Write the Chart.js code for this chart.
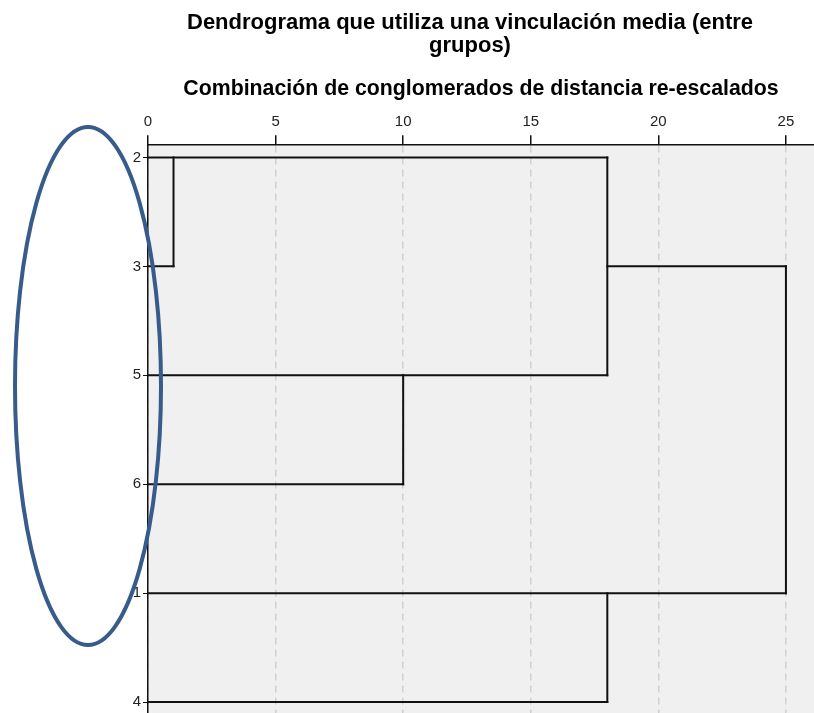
<!DOCTYPE html>
<html>
<head>
<meta charset="utf-8">
<script src="https://cdn.jsdelivr.net/npm/chart.js@4.4.0/dist/chart.umd.min.js"></script>
<style>
  html, body { margin: 0; padding: 0; background: #fff; }
  #wrap { width: 814px; height: 713px; }
</style>
</head>
<body>
<div id="wrap"><canvas id="dendro"></canvas></div>
<script>
// leaves in the order they appear, top to bottom
var leaves = ['2', '3', '5', '6', '1', '4'];

// horizontal branches: row index, start and end distance
var lineRows = [0, 1, 1, 2, 3, 4, 5];
var lineFrom = [0, 0, 18, 0, 0, 0, 0];
var lineTo   = [18, 1, 25, 18, 10, 25, 18];

// vertical joins: distance, top row, bottom row
var joinAt     = [1, 10, 18, 25, 18];
var joinTop    = [0, 2, 0, 1, 4];
var joinBottom = [1, 3, 2, 4, 5];

var xTicks = [0, 5, 10, 15, 20, 25];

var datasets = [];
for (var i = 0; i < lineRows.length; i++) {
    datasets.push({
        data: [{x: lineFrom[i], y: lineRows[i]}, {x: lineTo[i], y: lineRows[i]}]
    });
}
for (var j = 0; j < joinAt.length; j++) {
    datasets.push({
        data: [{x: joinAt[j], y: joinTop[j]}, {x: joinAt[j], y: joinBottom[j]}]
    });
}
datasets.forEach(function (d) {
    d.showLine = true;
    d.borderColor = '#111';
    d.borderWidth = 2;
    d.pointRadius = 0;
    d.borderCapStyle = 'square';
    d.borderJoinStyle = 'miter';
});

var plotBg = {
    id: 'plotBg',
    beforeDraw: function (chart) {
        var a = chart.chartArea, c = chart.ctx;
        c.save();
        c.fillStyle = '#f0f0f0';
        c.fillRect(a.left, a.top, a.right - a.left, a.bottom - a.top);
        c.restore();
    }
};

// blue hand-drawn ring around the leaf labels
var ring = {
    id: 'ring',
    afterDraw: function (chart) {
        var c = chart.ctx;
        c.save();
        c.strokeStyle = '#375c8c';
        c.lineWidth = 4;
        c.beginPath();
        c.ellipse(88, 386, 73, 259, 0, 0, Math.PI * 2);
        c.stroke();
        c.restore();
    }
};

Chart.defaults.font.family = '"Liberation Sans", Arial, sans-serif';
Chart.defaults.color = '#111';

new Chart(document.getElementById('dendro'), {
    type: 'scatter',
    data: { datasets: datasets },
    options: {
        responsive: true,
        maintainAspectRatio: false,
        animation: false,
        layout: { autoPadding: false, padding: { left: 126, right: 0, top: 0, bottom: 0 } },
        plugins: {
            legend: { display: false },
            tooltip: { enabled: false },
            title: {
                display: true,
                text: ['Dendrograma que utiliza una vinculación media (entre', 'grupos)'],
                font: { size: 22, weight: 'bold', lineHeight: 1.05 },
                color: '#000',
                padding: { top: 11.5, bottom: 0 }
            },
            subtitle: {
                display: true,
                fullSize: false,
                text: 'Combinación de conglomerados de distancia re-escalados',
                font: { size: 21.3, weight: 'bold', lineHeight: 1.2 },
                color: '#000',
                padding: { top: 18.5, bottom: 0 }
            }
        },
        scales: {
            x: {
                type: 'linear',
                position: 'top',
                min: 0,
                max: 26.1,
                afterBuildTicks: function (axis) {
                    axis.ticks = xTicks.map(function (v) { return {value: v}; });
                },
                afterFit: function (axis) { axis.height = 42.6; },
                ticks: { font: { size: 15 }, color: '#222', padding: 5, maxRotation: 0 },
                grid: {
                    color: '#d0d0d0',
                    lineWidth: 1.5,
                    tickColor: '#111',
                    tickLength: 9,
                    tickWidth: 1.5
                },
                border: { color: '#111', width: 1.5, dash: [7, 5] }
            },
            y: {
                type: 'linear',
                reverse: true,
                min: -0.12,
                max: 5.1,
                afterBuildTicks: function (axis) {
                    axis.ticks = leaves.map(function (l, i) { return {value: i}; });
                },
                afterFit: function (axis) {
                    axis.width = 22;
                    axis.paddingTop = 0;
                    axis.paddingBottom = 0;
                },
                ticks: {
                    font: { size: 15 },
                    color: '#222',
                    padding: 2,
                    callback: function (v) { return leaves[v]; }
                },
                grid: {
                    drawOnChartArea: false,
                    tickColor: '#111',
                    tickLength: 5,
                    tickWidth: 1
                },
                border: { color: '#111', width: 1.5 }
            }
        }
    },
    plugins: [plotBg, ring]
});
</script>
</body>
</html>
